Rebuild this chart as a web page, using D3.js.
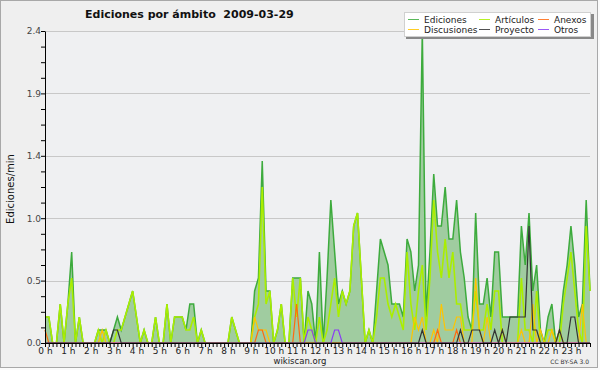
<!DOCTYPE html>
<html>
<head>
<meta charset="utf-8">
<script src="https://cdn.jsdelivr.net/npm/d3@7"></script>
<style>
  body { margin: 0; background: #fafafa; }
  svg { display: block; }
  text { font-family: "DejaVu Sans", sans-serif; }
</style>
</head>
<body>
<svg id="chart" width="600" height="370"></svg>
<script>
// edits per minute, one value per 10 minutes (0:00 .. 23:50)
const ediciones = [
  0.2,0.2,0,0,0.3,0,0.3,0.7,0,0.2,0,0,
  0,0,0.1,0.1,0.1,0,0.1,0.2,0.1,0.2,0.3,0.4,
  0.2,0,0.1,0,0,0.2,0,0,0.3,0,0.2,0.2,
  0.2,0.1,0.3,0.3,0,0.1,0,0,0,0,0,0,
  0,0.2,0.1,0,0,0,0,0.4,0.5,1.4,0.4,0.4,
  0,0.1,0.3,0,0,0.5,0.5,0.5,0,0.4,0.3,0,
  0.7,0,0.5,1.1,0.7,0.3,0.4,0.3,0.4,0.9,1.0,0.5,
  0,0.1,0,0.4,0.8,0.7,0.6,0.3,0.3,0.3,0.2,0.8,
  0.7,0.4,0.6,2.4,0.2,0.7,1.3,0.9,0.9,1.2,0.8,0.8,
  1.1,0.7,0.5,0.2,0.1,1.0,0.3,0.3,0.5,0.2,0.7,0.7,
  0.2,0.2,0.2,0.2,0.2,0.9,0.6,1.0,0.4,0.6,0.1,0,
  0.2,0.3,0,0.1,0.4,0.6,0.9,0.6,0.2,0.3,1.1,0.4
];
const articulos = [
  0.2,0.2,0,0,0.3,0,0.3,0.5,0,0.2,0,0,
  0,0,0.1,0,0.1,0,0,0.1,0.1,0.2,0.3,0.4,
  0.2,0,0.1,0,0,0.2,0,0,0.3,0,0.2,0.2,
  0.2,0.1,0.1,0.2,0,0.1,0,0,0,0,0,0,
  0,0.2,0.1,0,0,0,0,0.2,0.3,1.2,0.3,0.4,
  0,0.1,0.3,0,0,0.5,0.2,0.5,0,0.2,0.1,0,
  0.2,0,0.1,0.3,0.5,0.2,0.4,0.3,0.4,0.9,1.0,0.5,
  0,0.1,0,0.2,0.5,0.5,0.3,0.2,0.3,0.2,0.1,0.7,
  0.3,0.1,0.4,0.6,0.1,0.5,1.1,0.7,0.5,0.8,0.5,0.7,
  0.3,0.3,0.1,0.1,0.1,0.4,0.1,0.1,0.3,0.1,0.4,0.4,
  0,0,0,0,0,0.5,0.1,0.1,0,0.4,0,0,
  0.1,0.1,0,0,0.3,0.5,0.7,0.4,0.1,0,0.9,0.4
];
const discusiones = [
  0,0,0,0,0,0,0,0,0,0,0,0,
  0,0,0,0.1,0,0,0,0,0,0,0,0,
  0,0,0,0,0,0,0,0,0,0,0,0,
  0,0,0,0,0,0,0,0,0,0,0,0,
  0,0,0,0,0,0,0,0.2,0.1,0.1,0.1,0,
  0,0,0,0,0,0,0,0,0,0,0,0,
  0,0,0,0,0,0,0,0,0,0,0,0,
  0,0,0,0,0,0,0,0,0,0,0,0,
  0,0.2,0.1,0.2,0,0,0.1,0,0.3,0.1,0.1,0.1,
  0.2,0.2,0,0,0,0.5,0.1,0,0.2,0,0,0,
  0.1,0,0,0,0,0.1,0,0,0.3,0,0.1,0,
  0,0.1,0,0.1,0,0,0,0,0,0.3,0,0
];
const anexos = [
  0.1,0,0,0,0,0,0,0,0,0,0,0,
  0,0,0,0,0,0,0,0,0,0,0,0,
  0,0,0,0,0,0,0,0,0,0,0,0,
  0,0,0,0,0,0,0,0,0,0,0,0,
  0,0,0,0,0,0,0,0,0.1,0.1,0,0,
  0,0,0,0,0,0,0.3,0,0,0,0,0,
  0,0,0,0,0,0,0,0,0,0,0,0,
  0,0,0,0,0,0,0,0,0,0,0,0,
  0,0,0,0,0,0,0,0.1,0,0,0,0,
  0.1,0,0,0,0,0,0,0,0,0,0,0,
  0,0,0,0,0,0,0,0,0,0,0,0,
  0,0,0,0,0,0,0,0,0,0,0,0
];
const proyecto = [
  0,0,0,0,0,0,0,0,0,0,0,0,
  0,0,0,0,0,0,0.1,0.1,0,0,0,0,
  0,0,0,0,0,0,0,0,0,0,0,0,
  0,0,0,0,0,0,0,0,0,0,0,0,
  0,0,0,0,0,0,0,0,0,0,0,0,
  0,0,0,0,0,0,0,0,0,0,0,0,
  0,0,0,0,0,0,0,0,0,0,0,0,
  0,0,0,0,0,0,0,0,0,0,0,0,
  0,0,0,0.1,0,0,0,0,0,0,0,0,
  0,0.1,0,0,0.1,0.1,0.1,0,0,0,0.1,0,
  0.1,0,0.2,0.2,0.2,0.2,0.2,0.9,0.1,0.1,0,0,
  0,0,0,0.1,0,0,0.2,0.2,0,0,0,0
];
const otros = [
  0,0,0,0,0,0,0,0,0,0,0,0,
  0,0,0,0,0,0,0,0,0,0,0,0,
  0,0,0,0,0,0,0,0,0,0,0,0,
  0,0,0,0,0,0,0,0,0,0,0,0,
  0,0,0,0,0,0,0,0,0,0,0,0,
  0,0,0,0,0,0,0,0,0,0.1,0.1,0,
  0,0,0,0,0.1,0.1,0,0,0,0,0,0,
  0,0,0,0,0,0,0,0,0,0,0,0,
  0,0,0,0,0,0,0,0,0,0,0,0,
  0,0,0,0,0,0,0,0,0,0,0,0,
  0,0,0,0,0,0,0,0,0,0,0,0,
  0,0,0,0,0,0,0,0,0,0,0,0
];
const yTicks = [0, 0.12, 0.24, 0.36, 0.48, 0.6, 0.72, 0.84, 0.96, 1.08, 1.2,
  1.32, 1.44, 1.56, 1.68, 1.8, 1.92, 2.04, 2.16, 2.28, 2.4];
const yGrid = [0.48, 0.96, 1.44, 1.92, 2.4];
const legendNames = ["Ediciones", "Artículos", "Anexos", "Discusiones", "Proyecto", "Otros"];

const colors = {
  Ediciones: "#3dab3d", Artículos: "#aaee00", Anexos: "#ff6a10",
  Discusiones: "#ffc400", Proyecto: "#333333", Otros: "#8a3cf5"
};

const svg = d3.select("#chart");
const plotL = 45, plotR = 590, plotT = 31, plotB = 343;

svg.append("rect").attr("x", 0.5).attr("y", 0.5).attr("width", 597).attr("height", 367)
  .attr("fill", "#efefef").attr("stroke", "#a8a8a8");

const x = d3.scaleLinear().domain([0, 143]).range([plotL, plotR]);
const y = d3.scaleLinear().domain([0, 2.4]).range([plotB, plotT]);

svg.append("rect").attr("x", plotL).attr("y", plotT).attr("width", plotR - plotL)
  .attr("height", plotB - plotT).attr("fill", "#eff0f2");

svg.append("g").selectAll("line").data(yGrid).join("line")
  .attr("x1", plotL).attr("x2", plotR)
  .attr("y1", d => Math.round(y(d)) + 0.5).attr("y2", d => Math.round(y(d)) + 0.5)
  .attr("stroke", "#c8c8c8");

// Ediciones area
const area = d3.area().x((d, i) => x(i)).y0(y(0)).y1(d => y(d));
svg.append("path").datum(ediciones).attr("d", area).attr("fill", "#a0cca0");
const line = d3.line().x((d, i) => x(i)).y(d => y(d));
svg.append("path").datum(ediciones).attr("d", line).attr("fill", "none")
  .attr("stroke", colors.Ediciones).attr("stroke-width", 1.5);

const others = [
  ["Artículos", articulos, 1.6],
  ["Discusiones", discusiones, 1.2],
  ["Anexos", anexos, 1.2],
  ["Otros", otros, 1.2],
  ["Proyecto", proyecto, 1.2]
];
others.forEach(([name, vals, w]) => {
  svg.append("path").datum(vals).attr("d", line).attr("fill", "none")
    .attr("stroke", colors[name]).attr("stroke-width", w);
});

// axes
const xAxis = d3.axisBottom(x).tickValues(d3.range(0, 144)).tickSize(4).tickSizeOuter(0)
  .tickPadding(1).tickFormat(i => i % 6 === 0 ? (i / 6) + " h" : "");
const gx = svg.append("g").attr("transform", `translate(0,${plotB})`).call(xAxis);
gx.selectAll("text").attr("font-size", 9).attr("font-family", "DejaVu Sans").attr("fill", "#222");
gx.selectAll("line, path").attr("stroke", "#000");

const yAxis = d3.axisLeft(y).tickValues(yTicks).tickSize(4).tickSizeOuter(0).tickPadding(0)
  .tickFormat((d, i) => i % 4 === 0 ? d3.format(".1f")(d) : "");
const gy = svg.append("g").attr("transform", `translate(${plotL},0)`).call(yAxis);
gy.selectAll("text").attr("font-size", 9).attr("font-family", "DejaVu Sans").attr("fill", "#444");
gy.selectAll("line, path").attr("stroke", "#000");

// titles
svg.append("text").attr("x", 85).attr("y", 18).attr("font-size", 11).attr("font-weight", "bold")
  .attr("fill", "#111").attr("xml:space", "preserve").text("Ediciones por ámbito  2009-03-29");
svg.append("text").attr("transform", "translate(14,189) rotate(-90)").attr("text-anchor", "middle")
  .attr("font-family", "DejaVu Sans Mono").attr("font-size", 10).attr("fill", "#111")
  .text("Ediciones/min");
svg.append("text").attr("x", 300).attr("y", 364).attr("text-anchor", "middle")
  .attr("font-size", 8.5).attr("fill", "#222").text("wikiscan.org");
svg.append("text").attr("x", 589).attr("y", 364).attr("text-anchor", "end")
  .attr("font-size", 6).attr("fill", "#333").text("CC BY-SA 3.0");

// legend
const lg = svg.append("g");
lg.append("rect").attr("x", 406).attr("y", 14).attr("width", 188).attr("height", 25).attr("fill", "#888");
lg.append("rect").attr("x", 404.5).attr("y", 12.5).attr("width", 186).attr("height", 24)
  .attr("fill", "#fff").attr("stroke", "#d0d0d0");
const colX = [408, 479, 538];
legendNames.forEach((name, k) => {
  const cx = colX[k % 3], cy = k < 3 ? 19 : 29;
  lg.append("line").attr("x1", cx).attr("x2", cx + 11).attr("y1", cy + 0.5).attr("y2", cy + 0.5)
    .attr("stroke", colors[name]).attr("stroke-opacity", 0.85);
  lg.append("text").attr("x", cx + 16).attr("y", cy + 3.5).attr("font-size", 9)
    .attr("fill", "#222").text(name);
});
</script>
</body>
</html>
